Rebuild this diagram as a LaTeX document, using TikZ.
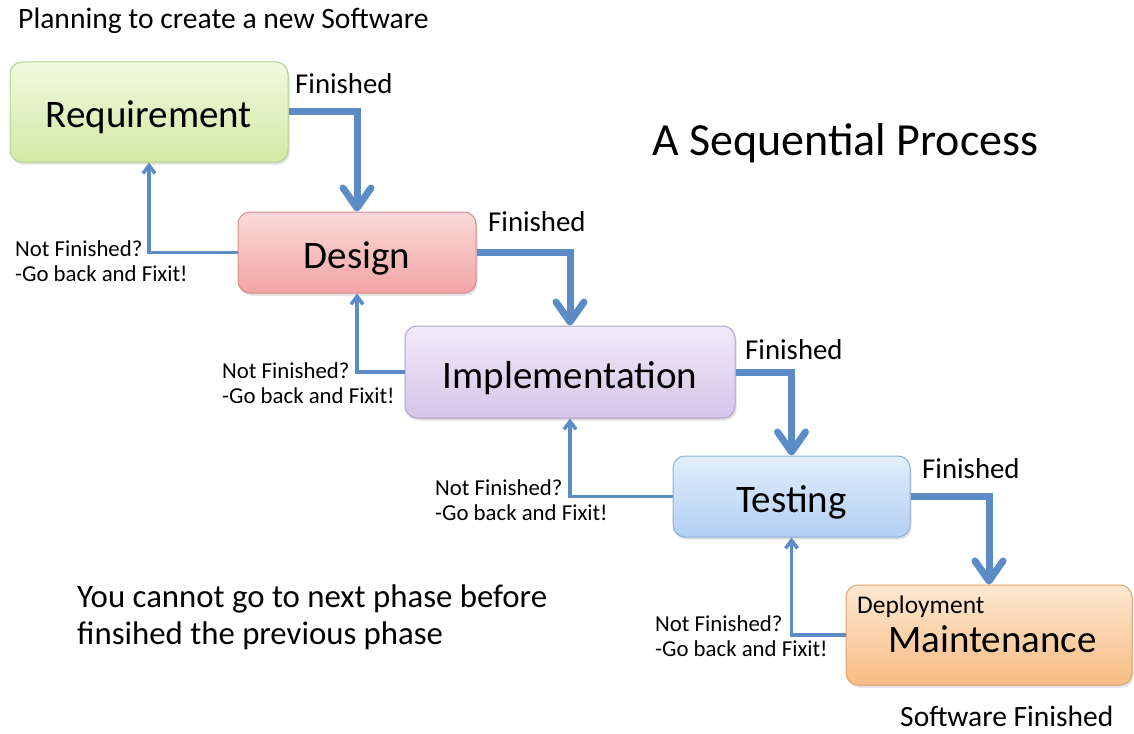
\documentclass[tikz,border=0pt]{standalone}
\usepackage{fontspec}
\setmainfont{Carlito}
\usetikzlibrary{arrows.meta,shadows}
\definecolor{flow}{HTML}{5B8CC6}
\definecolor{reqT}{HTML}{F0F9E0}\definecolor{reqB}{HTML}{D2EAA4}\definecolor{reqD}{HTML}{B3D28A}
\definecolor{desT}{HTML}{FBDADA}\definecolor{desB}{HTML}{F2A4A4}\definecolor{desD}{HTML}{D98E8E}
\definecolor{impT}{HTML}{F1EBF8}\definecolor{impB}{HTML}{D4C5E9}\definecolor{impD}{HTML}{B2A2CC}
\definecolor{tstT}{HTML}{E2EEFC}\definecolor{tstB}{HTML}{B2CFF3}\definecolor{tstD}{HTML}{8EAFDB}
\definecolor{mntT}{HTML}{FDE8D0}\definecolor{mntB}{HTML}{F8BC84}\definecolor{mntD}{HTML}{E0A46A}
\tikzset{
  phase/.style={rectangle, rounded corners=12pt, line width=1pt, inner sep=0pt,
    font=\fontsize{39}{44}\selectfont, text height=32pt, text depth=0pt,
    drop shadow={shadow xshift=1.5pt, shadow yshift=-2.5pt, opacity=0.25}},
  forward/.style={draw=flow, line width=7pt, -{Straight Barb[length=20pt,width=28pt,round]}},
  back/.style={draw=flow, line width=3.5pt, -{Straight Barb[length=8pt,width=12pt]}},
  lbl/.style={inner sep=0pt, anchor=base west},
  fin/.style={lbl, font=\fontsize{28.8}{32}\selectfont},
  notfin/.style={inner sep=0pt, anchor=north west, align=left, font=\fontsize{22.8}{25}\selectfont}
}
\begin{document}
\begin{tikzpicture}[x=1pt,y=-1pt]
\useasboundingbox (0,0) rectangle (1134,733);
\fill[white] (0,0) rectangle (1134,733);

\node[phase, minimum width=278pt, minimum height=100pt, top color=reqT, bottom color=reqB, draw=reqD] (req) at (149,112) {Requirement};
\node[phase, minimum width=238pt, minimum height=81pt, top color=desT, bottom color=desB, draw=desD] (des) at (357,252.5) {Design};
\node[phase, minimum width=330pt, minimum height=92pt, top color=impT, bottom color=impB, draw=impD] (imp) at (570,372) {Implementation};
\node[phase, minimum width=237pt, minimum height=81pt, top color=tstT, bottom color=tstB, draw=tstD] (tst) at (791.5,496.5) {Testing};
\node[phase, minimum width=286pt, minimum height=100pt, top color=mntT, bottom color=mntB, draw=mntD] (mnt) at (989,635) {};
\node[lbl, font=\fontsize{25.5}{28}\selectfont] (dep) at (857,613) {Deployment};
\node[lbl, font=\fontsize{39}{44}\selectfont] (mnttext) at (888,652) {Maintenance};

\draw[forward] (req.east) -| (des.north);
\draw[forward] (des.east) -| (imp.north);
\draw[forward] (imp.east) -| (tst.north);
\draw[forward] (tst.east) -| (mnt.north);

\draw[back] (des.west) -| (req.south);
\draw[back] (imp.west) -| (des.south);
\draw[back] (tst.west) -| (imp.south);
\draw[back] (mnt.west) -| (tst.south);

\node[lbl, font=\fontsize{29.6}{33}\selectfont] (plan) at (18,29) {Planning to create a new Software};
\node[lbl, font=\fontsize{46}{52}\selectfont] (title) at (652,155) {A Sequential Process};
\node[fin] (f1) at (295,94) {Finished};
\node[fin] (f2) at (488,231) {Finished};
\node[fin] (f3) at (745,359) {Finished};
\node[fin] (f4) at (922,478) {Finished};

\node[notfin] (n1) at (15,240) {Not Finished?\\-Go back and Fixit!};
\node[notfin] (n2) at (222,362) {Not Finished?\\-Go back and Fixit!};
\node[notfin] (n3) at (435,479) {Not Finished?\\-Go back and Fixit!};
\node[notfin] (n4) at (655,615) {Not Finished?\\-Go back and Fixit!};

\node[lbl, font=\fontsize{32.8}{38}\selectfont] (rule1) at (77,607) {You cannot go to next phase before};
\node[lbl, font=\fontsize{32.8}{38}\selectfont] (rule2) at (77,644) {finsihed the previous phase};
\node[lbl, font=\fontsize{29.5}{33}\selectfont] (done) at (900,726) {Software Finished};
\end{tikzpicture}
\end{document}
